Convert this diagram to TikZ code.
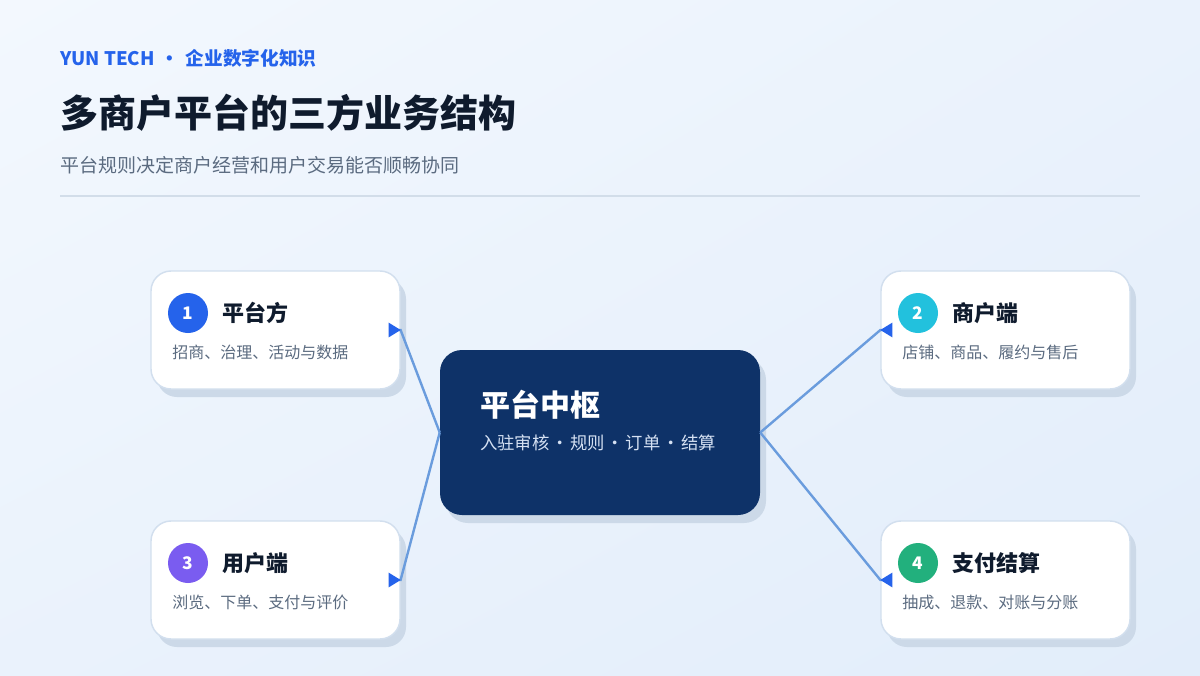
\documentclass[tikz,border=0pt]{standalone}
\usepackage{fontspec}
\setmainfont{Noto Sans CJK SC}
\usetikzlibrary{arrows.meta, positioning, shadows, shadings}

\definecolor{bgtop}{HTML}{F3F8FE}
\definecolor{bgmid}{HTML}{EAF2FC}
\definecolor{bgbot}{HTML}{E2EDFA}
\definecolor{brandblue}{HTML}{2563EB}
\definecolor{ink}{HTML}{0F1B2D}
\definecolor{muted}{HTML}{5B6B80}
\definecolor{rulec}{HTML}{D2DDE9}
\definecolor{cardline}{HTML}{D2DFEE}
\definecolor{shadowc}{HTML}{CCD9E8}
\definecolor{hubfill}{HTML}{0E3268}
\definecolor{hubsubc}{HTML}{D5E1F3}
\definecolor{linkc}{HTML}{6A9CDD}
\definecolor{numA}{HTML}{2563EB}
\definecolor{numB}{HTML}{22C1DD}
\definecolor{numC}{HTML}{7A5CF0}
\definecolor{numD}{HTML}{22B07D}

\newcommand{\midsep}{\hspace{0.1em}·\hspace{0.1em}}

\begin{document}
\begin{tikzpicture}[
  x=0.75pt, y=-0.75pt,
  card/.style={draw=cardline, line width=1.1pt, fill=white, rounded corners=15pt, minimum width=186.75pt, minimum height=88.5pt, general shadow={fill=shadowc, shadow xshift=4.5pt, shadow yshift=-6pt}},
  hub/.style={fill=hubfill, rounded corners=16.5pt, minimum width=240pt, minimum height=123.75pt, general shadow={fill=shadowc, shadow xshift=4.5pt, shadow yshift=-6pt}},
  badge/.style={circle, minimum size=30pt, inner sep=0pt, text=white, font=\fontsize{13pt}{15pt}\selectfont\bfseries},
  cardtitle/.style={anchor=west, inner sep=0pt, text=ink, font=\fontsize{16.5pt}{19pt}\selectfont\bfseries},
  carddesc/.style={anchor=west, inner sep=0pt, text=muted, font=\fontsize{12pt}{14pt}\selectfont},
  link/.style={draw=linkc, line width=1.8pt, -{Triangle[length=9pt, width=10.5pt, color=brandblue]}}
]
\useasboundingbox (0,0) rectangle (1200,675);
\shade[upper left=bgtop, upper right=bgmid, lower left=bgmid, lower right=bgbot] (0,0) rectangle (1200,675);

% header
\node[anchor=west, inner sep=0pt, text=brandblue, font=\fontsize{14pt}{16pt}\selectfont\bfseries] (brand) at (60,58) {YUN TECH\hspace{0.33em}·\hspace{0.33em}企业数字化知识};
\node[anchor=west, inner sep=0pt, text=ink, font=\fontsize{28.5pt}{34pt}\selectfont\bfseries] (title) at (60,113) {多商户平台的三方业务结构};
\node[anchor=west, inner sep=0pt, text=muted, font=\fontsize{14.25pt}{17pt}\selectfont] (subtitle) at (60,165) {平台规则决定商户经营和用户交易能否顺畅协同};
\coordinate (ruleL) at (60,196);
\coordinate (ruleR) at (1140,196);
\draw[rulec, line width=1.1pt] (ruleL) -- (ruleR);

% hub
\node[hub] (hub) at (600,432.5) {};
\node[anchor=west, inner sep=0pt, text=white, font=\fontsize{22.5pt}{27pt}\selectfont\bfseries] (hubtitle) at (480,405) {平台中枢};
\node[anchor=west, inner sep=0pt, text=hubsubc, font=\fontsize{13pt}{15pt}\selectfont] (hubsub) at (480,443) {入驻审核\midsep 规则\midsep 订单\midsep 结算};

% cards
\node[card] (plat) at (275.5,330) {};
\node[badge, fill=numA] (platnum) at (188,313) {1};
\node[cardtitle] (plattitle) at (222,313) {平台方};
\node[carddesc] (platdesc) at (172,352) {招商、治理、活动与数据};

\node[card] (merch) at (1005.5,330) {};
\node[badge, fill=numB] (merchnum) at (918,313) {2};
\node[cardtitle] (merchtitle) at (952,313) {商户端};
\node[carddesc] (merchdesc) at (902,352) {店铺、商品、履约与售后};

\node[card] (user) at (275.5,580) {};
\node[badge, fill=numC] (usernum) at (188,563) {3};
\node[cardtitle] (usertitle) at (222,563) {用户端};
\node[carddesc] (userdesc) at (172,602) {浏览、下单、支付与评价};

\node[card] (pay) at (1005.5,580) {};
\node[badge, fill=numD] (paynum) at (918,563) {4};
\node[cardtitle] (paytitle) at (952,563) {支付结算};
\node[carddesc] (paydesc) at (902,602) {抽成、退款、对账与分账};

% links
\draw[link] (hub.west) -- ([xshift=-0.1pt]plat.east) -- (plat.east);
\draw[link] (hub.west) -- ([xshift=-0.1pt]user.east) -- (user.east);
\draw[link] (hub.east) -- ([xshift=0.1pt]merch.west) -- (merch.west);
\draw[link] (hub.east) -- ([xshift=0.1pt]pay.west) -- (pay.west);
\end{tikzpicture}
\end{document}
